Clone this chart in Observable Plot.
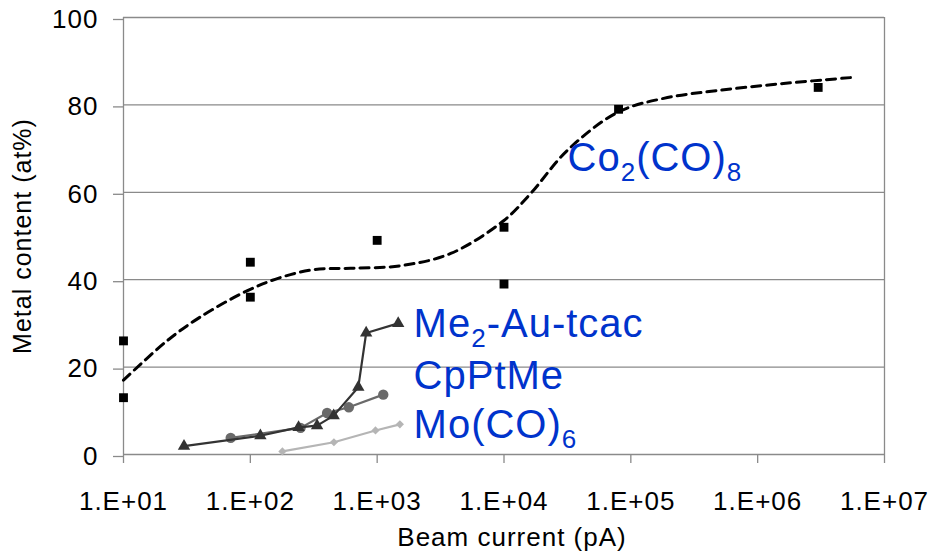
<!DOCTYPE html>
<html><head><meta charset="utf-8">
<script src="https://cdn.jsdelivr.net/npm/d3@7"></script>
<script src="https://cdn.jsdelivr.net/npm/@observablehq/plot@0.6"></script>
<style>
html,body{margin:0;padding:0;background:#fff;}
#chart svg{display:block;}
#chart svg text{letter-spacing:1px;}
</style></head><body><div id="chart"></div>
<script>
// Co2(CO)8 measured points
const coX = [10, 10, 100, 100, 1000, 10000, 10000, 80000, 3000000];
const coY = [26, 13, 44, 36, 49, 52, 39, 79, 84];
// Co2(CO)8 dashed trend
const fitX = [10, 22, 40, 95, 173, 315, 617, 1530, 3800, 9930, 16200, 31600, 78700, 181600, 484000, 1600000, 5700000];
const fitY = [17, 26, 31.4, 37.5, 40.5, 42.3, 42.6, 43.2, 46, 53.5, 59.7, 69.6, 78.3, 81.5, 83.3, 84.9, 86.3];
// Me2-Au-tcac
const auX = [30, 120, 240, 336, 454, 710, 819, 1465];
const auY = [1.9, 4.3, 6.2, 6.6, 8.9, 15.4, 27.8, 30.0];
// CpPtMe
const ptX = [70, 249, 403, 598, 1117];
const ptY = [3.8, 6.1, 9.5, 10.8, 13.7];
// Mo(CO)6
const moX = [179, 456, 970, 1510];
const moY = [0.7, 2.8, 5.5, 6.9];
// series labels (underscore marks a subscript digit)
const labelText = ["Co_2(CO)_8", "Me_2-Au-tcac", "CpPtMe", "Mo(CO)_6"];
const labelX = [31700, 1937, 1937, 1937];
const labelY = [64.8, 27.0, 15.1, 3.7];
// ticks
const xTicks = [1e1, 1e2, 1e3, 1e4, 1e5, 1e6, 1e7];
const yTicks = [0, 20, 40, 60, 80, 100];
const xTitle = "Beam current (pA)";
const yTitle = "Metal content (at%)";

const pts = (xs, ys) => xs.map((x, i) => ({x, y: ys[i]}));
const co = pts(coX, coY), fit = pts(fitX, fitY), au = pts(auX, auY), pt = pts(ptX, ptY), mo = pts(moX, moY);
const labels = labelText.map((t, i) => ({t, x: labelX[i], y: labelY[i]}));
const grid = "#8a8a8a";

const chart = Plot.plot({
  width: 936, height: 552,
  marginLeft: 123, marginRight: 52, marginTop: 17, marginBottom: 98,
  style: {fontFamily: "'Liberation Sans', Arial, sans-serif", fontSize: "26px", color: "#000", background: "#fff", overflow: "visible"},
  x: {type: "log", domain: [10, 1e7]},
  y: {domain: [0, 100]},
  marks: [
    Plot.ruleY(yTicks.slice(1), {stroke: grid, strokeWidth: 1.3}),
    Plot.ruleX([1e7], {stroke: grid, strokeWidth: 1.3}),
    Plot.ruleX([10], {stroke: grid, strokeWidth: 1.3}),
    Plot.ruleY([0], {stroke: grid, strokeWidth: 1.3}),
    Plot.axisY({ticks: yTicks, tickSize: 10, tickPadding: 15, stroke: grid, strokeWidth: 1.3, fill: "#000", fontSize: 26, label: null, tickFormat: d => String(d), dy: 2}),
    Plot.axisY({ticks: [], tickSize: 0, label: yTitle, labelAnchor: "center", labelArrow: false, labelOffset: 110, fill: "#000", fontSize: 25}),
    Plot.axisX({ticks: xTicks, tickSize: 9, tickPadding: 28, stroke: grid, strokeWidth: 1.3, fill: "#000", fontSize: 26, label: null,
      tickFormat: d => "1.E+" + String(Math.round(Math.log10(d))).padStart(2, "0")}),
    Plot.text([xTitle], {frameAnchor: "bottom", text: d => d, textAnchor: "middle", lineAnchor: "middle", dy: 83, dx: 8, fontSize: 26, fill: "#000"}),
    Plot.line(mo, {x: "x", y: "y", stroke: "#b5b5b5", strokeWidth: 2.2}),
    Plot.dot(mo, {x: "x", y: "y", symbol: "diamond2", r: 3.7, fill: "#b5b5b5", stroke: "none"}),
    Plot.line(pt, {x: "x", y: "y", stroke: "#6a6a6a", strokeWidth: 2.2}),
    Plot.dot(pt, {x: "x", y: "y", symbol: "circle", r: 5.2, fill: "#6a6a6a", stroke: "none"}),
    Plot.line(au, {x: "x", y: "y", stroke: "#333", strokeWidth: 2.2}),
    Plot.dot(au, {x: "x", y: "y", symbol: "triangle", r: 4.6, fill: "#333", stroke: "none"}),
    Plot.dot(co, {x: "x", y: "y", symbol: "square", r: 5, fill: "#000", stroke: "none"}),
    Plot.line(fit, {x: "x", y: "y", curve: "catmull-rom", stroke: "#000", strokeWidth: 3, strokeDasharray: "9,6"}),
    Plot.text(labels, {x: "x", y: "y", text: "t", textAnchor: "start", lineAnchor: "bottom", fontSize: 40, fill: "#0033cc"})
  ]
});

// turn "_d" into subscripts
const ns = "http://www.w3.org/2000/svg";
chart.querySelectorAll("text").forEach(t => {
  const s = t.textContent;
  if (!s.includes("_")) return;
  t.textContent = "";
  const parts = s.split(/_(\d)/);
  let shifted = false;
  parts.forEach((p, i) => {
    if (!p) return;
    const ts = document.createElementNS(ns, "tspan");
    ts.textContent = p;
    if (i % 2 === 1) { ts.setAttribute("font-size", "26"); ts.setAttribute("dy", "10"); shifted = true; }
    else if (shifted) { ts.setAttribute("dy", "-10"); shifted = false; }
    t.appendChild(ts);
  });
});
document.getElementById("chart").appendChild(chart);
</script></body></html>
